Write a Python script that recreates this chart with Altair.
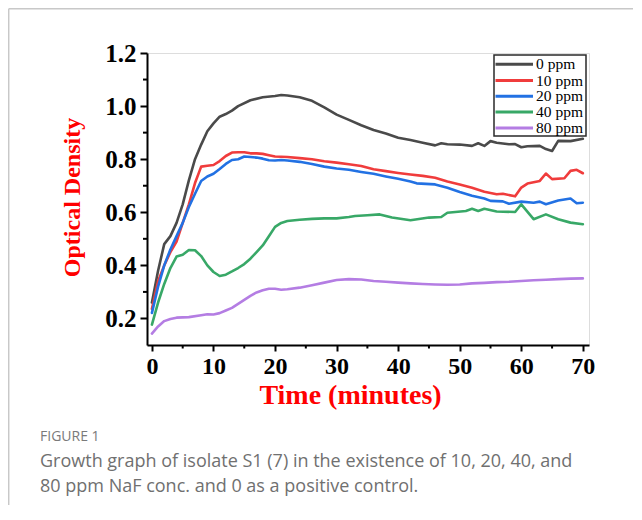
import altair as alt
import pandas as pd

series_names = ["0 ppm", "10 ppm", "20 ppm", "40 ppm", "80 ppm"]
series_colors = ["#4a4a4a", "#f03c3c", "#2271e3", "#38a867", "#b47de3"]

t_0 = [0,1,2,3,4,5,6,7,8,9,10,11,12,13,14,16,18,20,21,22,24,26,28,30,32,34,36,38,40,42,44,46,47,48,50,52,53,54,55,56,58,59,60,61,63,64,65,66,68,70]
v_0 = [0.26,0.38,0.48,0.51,0.56,0.63,0.72,0.80,0.855,0.905,0.935,0.96,0.97,0.983,1.0,1.022,1.033,1.038,1.042,1.04,1.033,1.02,0.995,0.968,0.948,0.928,0.91,0.897,0.881,0.872,0.862,0.852,0.86,0.856,0.855,0.85,0.86,0.85,0.868,0.862,0.856,0.857,0.845,0.849,0.85,0.838,0.831,0.869,0.868,0.877]

t_10 = [0,1,2,3,4,5,6,7,8,9,10,11,12,13,14,15,16,17,18,19,20,22,24,26,28,30,32,34,36,38,40,42,44,46,48,50,52,54,56,57,59,60,61,63,64,65,67,68,69,70]
v_10 = [0.236,0.34,0.40,0.45,0.49,0.56,0.63,0.71,0.772,0.775,0.778,0.793,0.812,0.825,0.826,0.826,0.822,0.822,0.82,0.815,0.81,0.808,0.804,0.80,0.792,0.787,0.781,0.774,0.762,0.755,0.748,0.742,0.737,0.73,0.716,0.705,0.692,0.677,0.668,0.67,0.66,0.693,0.708,0.718,0.746,0.725,0.728,0.756,0.76,0.747]

t_20 = [0,1,2,3,4,5,6,7,8,9,10,11,12,13,14,15,16,17,18,19,20,21,22,24,26,28,30,32,34,36,38,40,42,43,46,48,50,52,54,55,57,58,60,62,63,64,66,68,69,70]
v_20 = [0.221,0.32,0.40,0.46,0.51,0.56,0.62,0.67,0.718,0.735,0.745,0.763,0.782,0.797,0.80,0.81,0.808,0.806,0.802,0.796,0.795,0.797,0.795,0.79,0.782,0.772,0.765,0.76,0.752,0.745,0.735,0.726,0.716,0.709,0.705,0.692,0.676,0.662,0.652,0.643,0.641,0.632,0.64,0.636,0.64,0.63,0.644,0.652,0.634,0.636]

t_40 = [0,1,2,3,4,5,6,7,8,9,10,11,12,13,14,15,16,17,18,19,20,21,22,24,26,28,30,32,33,35,37,39,42,45,47,48,51,52,53,54,56,59,60,62,64,66,68,70]
v_40 = [0.177,0.26,0.33,0.39,0.433,0.44,0.458,0.457,0.435,0.40,0.375,0.36,0.365,0.377,0.39,0.405,0.425,0.45,0.475,0.51,0.545,0.56,0.567,0.572,0.575,0.577,0.577,0.582,0.586,0.589,0.592,0.58,0.57,0.58,0.582,0.598,0.605,0.613,0.605,0.613,0.603,0.601,0.63,0.574,0.592,0.574,0.561,0.555]

t_80 = [0,1,2,3,4,6,8,9,10,11,12,13,14,15,16,17,18,19,20,21,22,24,26,28,30,32,34,36,38,40,42,44,46,48,50,52,54,56,58,60,62,64,66,68,70]
v_80 = [0.143,0.17,0.19,0.198,0.203,0.205,0.212,0.216,0.215,0.22,0.23,0.24,0.255,0.27,0.285,0.298,0.306,0.312,0.312,0.308,0.31,0.316,0.325,0.335,0.345,0.348,0.347,0.341,0.338,0.335,0.332,0.33,0.328,0.327,0.328,0.332,0.334,0.337,0.338,0.341,0.344,0.346,0.348,0.35,0.351]

x_major = [0, 10, 20, 30, 40, 50, 60, 70]
x_minor = [5, 15, 25, 35, 45, 55, 65]
y_major = [0.2, 0.4, 0.6, 0.8, 1.0, 1.2]
y_minor = [0.3, 0.5, 0.7, 0.9, 1.1]

caption_head = "FIGURE 1"
caption_line1 = "Growth graph of isolate S1 (7) in the existence of 10, 20, 40, and"
caption_line2 = "80 ppm NaF conc. and 0 as a positive control."

rows = []
for name, ts, vs in zip(series_names, [t_0, t_10, t_20, t_40, t_80], [v_0, v_10, v_20, v_40, v_80]):
    for t, v in zip(ts, vs):
        rows.append({"series": name, "t": t, "v": v})
df = pd.DataFrame(rows)

W, H = 442, 292
serif = "Liberation Serif"
xscale = alt.Scale(domain=[-0.8, 71], nice=False, zero=False)
yscale = alt.Scale(domain=[0.1, 1.2], nice=False, zero=False)

lines = alt.Chart(df).mark_line(strokeWidth=2.6, strokeCap="round", strokeJoin="round").encode(
    x=alt.X("t:Q", scale=xscale, axis=alt.Axis(
        values=x_major, title="Time (minutes)", grid=False,
        labelFont=serif, labelFontWeight="bold", labelFontSize=24, labelColor="black",
        labelPadding=3, tickSize=6, tickWidth=2, tickColor="black",
        domainColor="black", domainWidth=2,
        titleFont=serif, titleFontWeight="bold", titleFontSize=28, titleColor="#ff0000",
        titleX=203, titleY=50, titleAlign="center", titleBaseline="middle")),
    y=alt.Y("v:Q", scale=yscale, axis=alt.Axis(
        values=y_major, format=".1f", title="Optical Density", grid=False,
        labelFont=serif, labelFontWeight="bold", labelFontSize=25, labelColor="black",
        labelPadding=4, tickSize=7, tickWidth=2, tickColor="black",
        domainColor="black", domainWidth=2,
        titleFont=serif, titleFontWeight="bold", titleFontSize=24, titleColor="#ff0000",
        titleX=-75, titleY=144, titleAlign="center", titleBaseline="middle", titleAngle=270)),
    color=alt.Color("series:N", scale=alt.Scale(domain=series_names, range=series_colors), legend=None),
    detail="series:N",
)

xminor = alt.Chart(pd.DataFrame({"t": x_minor})).mark_rule(color="black", strokeWidth=2).encode(
    x=alt.X("t:Q", scale=xscale), y=alt.value(H), y2=alt.value(H + 3.5))
yminor = alt.Chart(pd.DataFrame({"v": y_minor})).mark_rule(color="black", strokeWidth=2).encode(
    y=alt.Y("v:Q", scale=yscale), x=alt.value(0), x2=alt.value(-4))

one = alt.Data(values=[{"k": 1}])
card_left = alt.Chart(one).mark_rule(color="#c8c8c8", strokeWidth=1.5).encode(
    x=alt.value(-138.3), y=alt.value(-44.3), y2=alt.value(470))
card_top = alt.Chart(one).mark_rule(color="#c8c8c8", strokeWidth=1.5).encode(
    x=alt.value(-138.3), x2=alt.value(500), y=alt.value(-44.3))

# legend (drawn by hand, inside the plot, top right)
legend_box = alt.Chart(one).mark_rect(fill="white", stroke="#2a2a2a", strokeWidth=1.5).encode(
    x=alt.value(347), x2=alt.value(439), y=alt.value(2), y2=alt.value(83))
legend_layers = [legend_box]
row_y = [11.3, 27.5, 43.2, 59.0, 75.0]
for name, col, ry in zip(series_names, series_colors, row_y):
    legend_layers.append(alt.Chart(one).mark_rule(color=col, strokeWidth=3).encode(
        x=alt.value(348.5), x2=alt.value(386), y=alt.value(ry)))
    legend_layers.append(alt.Chart(one).mark_text(align="left", baseline="middle", font=serif,
                                                  fontSize=15.5, color="black").encode(
        x=alt.value(389), y=alt.value(ry), text=alt.value(name)))

sans = "Open Sans"
cap0 = alt.Chart(one).mark_text(align="left", baseline="middle", font=sans, fontSize=14,
                                color="#7a7a7a").encode(
    x=alt.value(-107), y=alt.value(384), text=alt.value(caption_head))
cap1 = alt.Chart(one).mark_text(align="left", baseline="middle", font=sans, fontSize=18,
                                color="#707070").encode(
    x=alt.value(-107), y=alt.value(409), text=alt.value(caption_line1))
cap2 = alt.Chart(one).mark_text(align="left", baseline="middle", font=sans, fontSize=18,
                                color="#707070").encode(
    x=alt.value(-107), y=alt.value(434), text=alt.value(caption_line2))

chart = alt.layer(card_left, card_top, xminor, yminor, lines, *legend_layers, cap0, cap1, cap2).properties(
    width=W, height=H,
    autosize=alt.AutoSizeParams(type="none"),
    padding={"left": 139, "top": 45, "right": 44, "bottom": 160},
).configure_view(stroke="black", strokeWidth=2).configure(background="white")

chart.save("out.html", embed_options={"renderer": "svg", "actions": False})
